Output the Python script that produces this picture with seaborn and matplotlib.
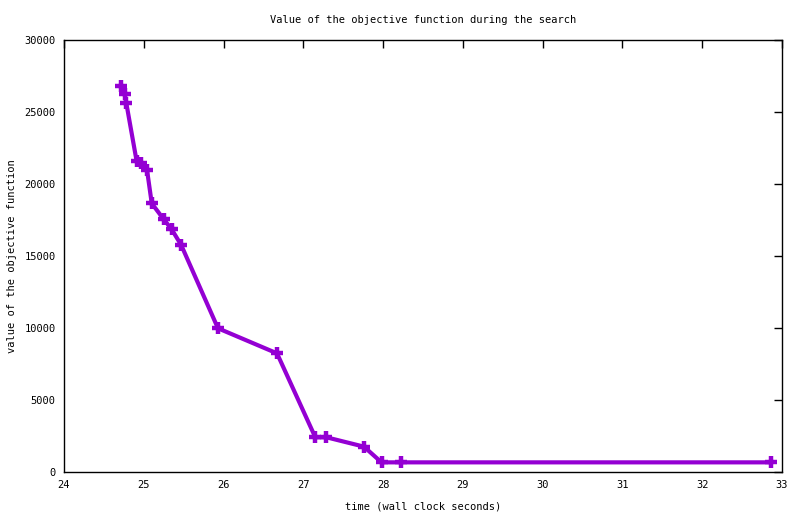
import pandas as pd
import numpy as np
import matplotlib
matplotlib.use("Agg")
import matplotlib.pyplot as plt
import seaborn as sns

# tiempos (s) y valores de la funcion objetivo
time_s = [24.72, 24.76, 24.78, 24.91, 24.97, 25.04, 25.10, 25.25, 25.35, 25.47,
          25.93, 26.67, 27.15, 27.29, 27.76, 27.98, 28.22, 32.86]
obj_value = [26800, 26250, 25650, 21600, 21450, 21000, 18650, 17550, 16850, 15750,
             9980, 8240, 2410, 2410, 1760, 670, 670, 670]

x_ticks = list(range(24, 34))
y_ticks = list(range(0, 30001, 5000))

df = pd.DataFrame({"time": time_s, "value": obj_value})

sns.set_style("white")
plt.rcParams["font.family"] = ["DejaVu Sans Mono"]
plt.rcParams["font.size"] = 7.5
plt.rcParams["text.color"] = "black"
plt.rcParams["axes.labelcolor"] = "black"

fig = plt.figure(figsize=(8, 5.14), dpi=100)
ax = fig.add_axes([0.08, 0.0817, 0.8975, 0.8405])

sns.lineplot(data=df, x="time", y="value", ax=ax, color="#9400d3",
             linewidth=3.0, marker="+", markersize=9, markeredgewidth=3.2,
             markeredgecolor="#9400d3", sort=False)

ax.set_xlim(24, 33)
ax.set_ylim(0, 30000)
ax.set_xticks(x_ticks)
ax.set_yticks(y_ticks)
ax.tick_params(direction="in", length=6, width=1, top=True, right=True,
               labelsize=7.5, colors="black", pad=6)
for s in ax.spines.values():
    s.set_visible(True)
    s.set_color("black")
    s.set_linewidth(1)

ax.set_title("Value of the objective function during the search", fontsize=7.5,
             pad=12, color="black")
ax.set_xlabel("time (wall clock seconds)", fontsize=7.5, labelpad=8)
ax.set_ylabel("value of the objective function", fontsize=7.5, labelpad=5)

fig.savefig("out.png", dpi=100)
